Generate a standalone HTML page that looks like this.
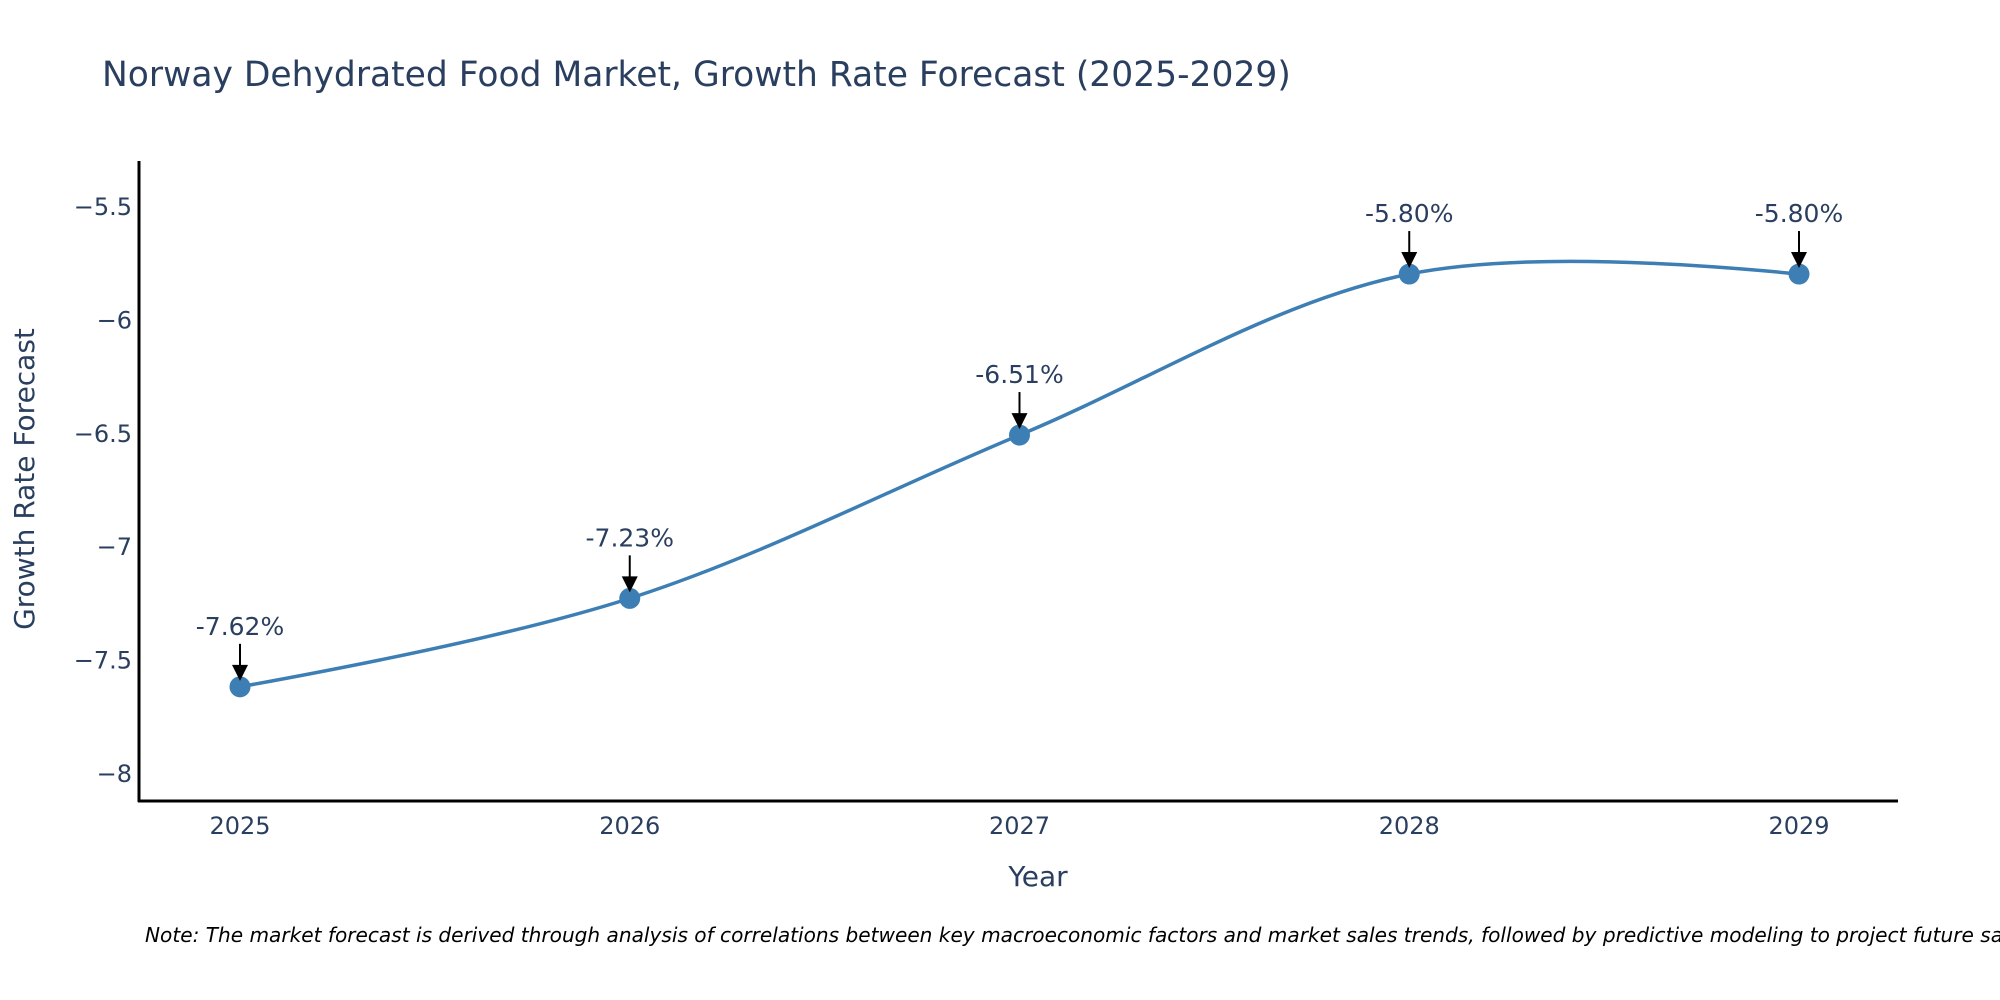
<!DOCTYPE html>
<html><head><meta charset="utf-8"><style>
html,body{margin:0;padding:0;background:#fff;}
svg{display:block;font-family:"DejaVu Sans","Liberation Sans",sans-serif;}
</style></head><body>
<svg id="chart" width="2000" height="1000" viewBox="0 0 2000 1000">
<text x="102" y="86" font-size="34.5" fill="#2a3f5f">Norway Dehydrated Food Market, Growth Rate Forecast (2025-2029)</text>
<g id="yticks"></g>
<g id="xticks"></g>
<line x1="139" y1="161" x2="139" y2="802" stroke="#000" stroke-width="3"/>
<line x1="138" y1="801" x2="1898" y2="801" stroke="#000" stroke-width="3"/>
<text transform="translate(34,479) rotate(-90)" text-anchor="middle" font-size="28" fill="#2a3f5f">Growth Rate Forecast</text>
<text x="1038" y="886" text-anchor="middle" font-size="28" fill="#2a3f5f">Year</text>
<g id="series"></g>
<g id="annots"></g>
<text x="145" y="942" font-size="20.1" font-style="italic" fill="#000">Note: The market forecast is derived through analysis of correlations between key macroeconomic factors and market sales trends, followed by predictive modeling to project future sales.</text>
</svg>
<script>
const years = [2025, 2026, 2027, 2028, 2029];
const values = [-7.62, -7.23, -6.51, -5.80, -5.80];
const labels = ["-7.62%", "-7.23%", "-6.51%", "-5.80%", "-5.80%"];
const yTickValues = [-8, -7.5, -7, -6.5, -6, -5.5];
const yTickLabels = ["\u22128", "\u22127.5", "\u22127", "\u22126.5", "\u22126", "\u22125.5"];

const NS = "http://www.w3.org/2000/svg";
function xs(v){ return 240 + (v - 2025) * 389.75; }
function ys(v){ return 206 + (-5.5 - v) * 226.8; }
function mk(tag, attrs, parent){ const e = document.createElementNS(NS, tag); for (const k in attrs) e.setAttribute(k, attrs[k]); parent.appendChild(e); return e; }

const yt = document.getElementById('yticks');
yTickValues.forEach((v, i) => {
  const t = mk('text', {x: 132, y: ys(v) + 9, 'text-anchor': 'end', 'font-size': 24, fill: '#2a3f5f'}, yt);
  
  
  t.textContent = yTickLabels[i];
});
const xt = document.getElementById('xticks');
years.forEach(y => {
  const t = mk('text', {x: xs(y), y: 834, 'text-anchor': 'middle', 'font-size': 24, fill: '#2a3f5f'}, xt);
  
  
  t.textContent = String(y);
});

const pts = years.map((y, i) => [xs(y), ys(values[i])]);
function tangent(p, c, n, s){
  const d1x = p[0]-c[0], d1y = p[1]-c[1], d2x = n[0]-c[0], d2y = n[1]-c[1];
  const d1a = Math.pow(d1x*d1x + d1y*d1y, 0.25), d2a = Math.pow(d2x*d2x + d2y*d2y, 0.25);
  const numx = (d2a*d2a*d1x - d1a*d1a*d2x) * s, numy = (d2a*d2a*d1y - d1a*d1a*d2y) * s;
  const den1 = 3*d2a*(d1a+d2a), den2 = 3*d1a*(d1a+d2a);
  return [[c[0] + (den1 && numx/den1), c[1] + (den1 && numy/den1)], [c[0] - (den2 && numx/den2), c[1] - (den2 && numy/den2)]];
}
const tg = [];
for (let i = 1; i < pts.length - 1; i++) tg.push(tangent(pts[i-1], pts[i], pts[i+1], 1));
const f = p => p[0].toFixed(2) + ',' + p[1].toFixed(2);
let d = 'M' + f(pts[0]) + 'Q' + f(tg[0][0]) + ' ' + f(pts[1]);
for (let i = 2; i < pts.length - 1; i++) d += 'C' + f(tg[i-2][1]) + ' ' + f(tg[i-1][0]) + ' ' + f(pts[i]);
d += 'Q' + f(tg[pts.length-3][1]) + ' ' + f(pts[pts.length-1]);
const sg = document.getElementById('series');
const line = mk('path', {d: d, fill: 'none', stroke: '#3d7fb4', 'stroke-width': 3.5}, sg);


pts.forEach(p => {
  const c = mk('circle', {cx: p[0], cy: p[1], r: 10.5, fill: '#3d7fb4'}, sg);
  
  
});

const an = document.getElementById('annots');
pts.forEach((p, i) => {
  const l = mk('line', {x1: p[0], y1: p[1]-43, x2: p[0], y2: p[1]-20, stroke: '#000', 'stroke-width': 2}, an);
  
  
  const h = mk('path', {d: 'M' + (p[0]-8) + ',' + (p[1]-22) + 'L' + (p[0]+8) + ',' + (p[1]-22) + 'L' + p[0] + ',' + (p[1]-6) + 'Z', fill: '#000'}, an);
  
  
  const t = mk('text', {x: p[0], y: p[1]-52, 'text-anchor': 'middle', 'font-size': 25, fill: '#2a3f5f'}, an);
  
  
  t.textContent = labels[i];
});
</script>
</body></html>
